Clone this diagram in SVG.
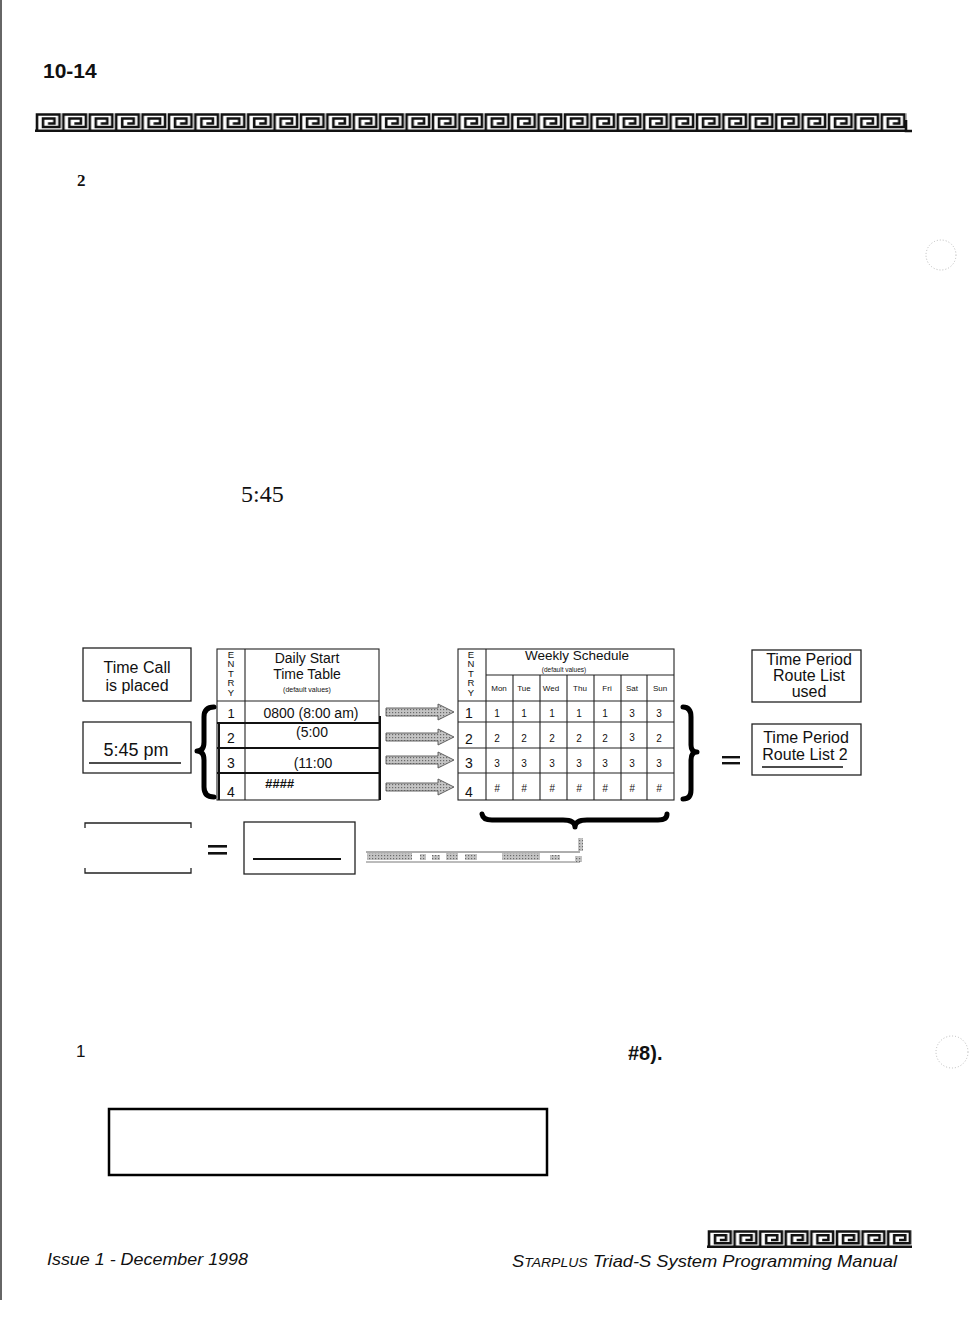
<svg xmlns="http://www.w3.org/2000/svg" width="975" height="1324" viewBox="0 0 975 1324">
<style>
.sans{font-family:"Liberation Sans",Arial,sans-serif;fill:#111}
.serif{font-family:"Liberation Serif","Times New Roman",serif;fill:#111}
.box{fill:none;stroke:#222;stroke-width:1.3}
.grid{fill:none;stroke:#222;stroke-width:1.1}
.thick{fill:none;stroke:#111;stroke-width:2}
.brace{fill:none;stroke:#000;stroke-width:5;stroke-linecap:round;stroke-linejoin:round}
.key{fill:none;stroke:#111;stroke-width:2.6}
.arrow{fill:url(#dots);stroke:#555;stroke-width:0.9}
.c{text-anchor:middle}
</style>
<defs>
<pattern id="keyA" patternUnits="userSpaceOnUse" x="35" y="113" width="26.4" height="19">
<path class="key" d="M0,17.7 H26.4 M2,17.7 V1.5 H24.5 V14 H8 V5.5 H19.5 V10.5 H13"/>
</pattern>
<pattern id="keyB" patternUnits="userSpaceOnUse" x="707" y="1230" width="25.6" height="18">
<path class="key" d="M0,16.7 H25.6 M2,16.7 V1.5 H23.7 V13.2 H8 V5.3 H19 V10 H12.8"/>
</pattern>
<pattern id="dots" patternUnits="userSpaceOnUse" width="3" height="3">
<rect width="3" height="3" fill="#c4c4c4"/>
<rect width="1.2" height="1.2" fill="#6a6a6a"/>
</pattern>
<path id="arr" d="M0,-4 H52 V-8 L68,0 L52,8 V4 H0 Z"/>
</defs>

<!-- page edge -->
<line x1="1" y1="0" x2="1" y2="1300" stroke="#333" stroke-width="1.5"/>

<!-- header -->
<text class="sans" x="43" y="78" font-size="21" font-weight="bold">10-14</text>
<rect x="35" y="113" width="872" height="19" fill="url(#keyA)"/>
<path d="M906,120 V131 H912" class="key" stroke-width="2"/>

<text class="serif" x="77" y="186" font-size="17" font-weight="bold">2</text>
<text class="serif" x="241" y="502" font-size="24">5:45</text>

<!-- speckle marks -->
<circle cx="941" cy="255" r="15" fill="none" stroke="#bbb" stroke-width="1" stroke-dasharray="1 2"/>
<circle cx="952" cy="1052" r="16" fill="none" stroke="#bbb" stroke-width="1" stroke-dasharray="1 2"/>

<!-- Time Call box -->
<g id="time-call">
<rect class="box" x="83" y="648" width="108" height="53"/>
<text class="sans c" x="137" y="673" font-size="16">Time Call</text>
<text class="sans c" x="137" y="691" font-size="16">is placed</text>
</g>
<g id="time-545">
<rect class="box" x="83" y="722" width="108" height="51"/>
<text class="sans c" x="136" y="756" font-size="18">5:45 pm</text>
<line x1="89" y1="763" x2="181" y2="763" stroke="#111" stroke-width="1.6"/>
</g>

<!-- Daily start time table -->
<g id="daily-table">
<rect class="grid" x="217" y="649" width="162" height="151"/>
<line class="grid" x1="245" y1="649" x2="245" y2="800"/>
<line class="grid" x1="217" y1="701" x2="379" y2="701"/>
<line class="thick" x1="217" y1="723" x2="381" y2="723"/>
<line class="thick" x1="217" y1="748" x2="381" y2="748"/>
<line class="thick" x1="217" y1="773" x2="381" y2="773"/>
<line class="thick" x1="219" y1="723" x2="219" y2="800"/>
<line class="thick" x1="380" y1="716" x2="380" y2="800"/>
<g class="sans c" font-size="9.5">
<text x="231" y="658">E</text><text x="231" y="667">N</text><text x="231" y="677">T</text><text x="231" y="686">R</text><text x="231" y="696">Y</text>
</g>
<text class="sans c" x="307" y="663" font-size="14">Daily Start</text>
<text class="sans c" x="307" y="679" font-size="14">Time Table</text>
<text class="sans c" x="307" y="692" font-size="7">(default values)</text>
<text class="sans c" x="231" y="718" font-size="13">1</text>
<text class="sans c" x="311" y="718" font-size="14">0800 (8:00 am)</text>
<text class="sans c" x="231" y="743" font-size="14">2</text>
<text class="sans c" x="312" y="737" font-size="14">(5:00</text>
<text class="sans c" x="231" y="768" font-size="14">3</text>
<text class="sans c" x="313" y="768" font-size="14">(11:00</text>
<text class="sans c" x="231" y="797" font-size="14">4</text>
<text class="sans" x="265" y="788" font-size="13" font-style="italic" font-weight="bold">####</text>
</g>

<!-- braces -->
<path class="brace" d="M214,707 Q204,707 204,717 V742 Q204,751 197,751 Q204,751 204,760 V787 Q204,797 214,797"/>
<path class="brace" d="M683,707 Q691,707 691,717 V745 Q691,752 697,752 Q691,752 691,760 V790 Q691,799 683,799"/>
<path class="brace" d="M482,814 Q483,820 492,820 H563 Q575,820 575,827 Q575,820 587,820 H658 Q667,820 667,814"/>

<!-- connectors -->
<g id="connectors">
<use href="#arr" class="arrow" x="386" y="712"/>
<use href="#arr" class="arrow" x="386" y="737"/>
<use href="#arr" class="arrow" x="386" y="760"/>
<use href="#arr" class="arrow" x="386" y="787"/>
</g>

<!-- Weekly schedule table -->
<g id="weekly-table">
<rect class="grid" x="458" y="649" width="216" height="151"/>
<line class="grid" x1="486" y1="649" x2="486" y2="800"/>
<line class="grid" x1="486" y1="675" x2="674" y2="675"/>
<line class="grid" x1="458" y1="701" x2="674" y2="701"/>
<line class="grid" x1="458" y1="722" x2="674" y2="722"/>
<line class="grid" x1="458" y1="748" x2="674" y2="748"/>
<line class="grid" x1="458" y1="773" x2="674" y2="773"/>
<g class="grid">
<line x1="513" y1="675" x2="513" y2="800"/>
<line x1="540" y1="675" x2="540" y2="800"/>
<line x1="567" y1="675" x2="567" y2="800"/>
<line x1="594" y1="675" x2="594" y2="800"/>
<line x1="621" y1="675" x2="621" y2="800"/>
<line x1="647" y1="675" x2="647" y2="800"/>
</g>
<g class="sans c" font-size="9.5">
<text x="471" y="658">E</text><text x="471" y="667">N</text><text x="471" y="677">T</text><text x="471" y="686">R</text><text x="471" y="696">Y</text>
</g>
<text class="sans c" x="577" y="660" font-size="13.5">Weekly Schedule</text>
<text class="sans c" x="564" y="672" font-size="6.5">(default values)</text>
<g class="sans c" font-size="8">
<text x="499" y="691">Mon</text><text x="524" y="691">Tue</text><text x="551" y="691">Wed</text><text x="580" y="691">Thu</text><text x="607" y="691">Fri</text><text x="632" y="691">Sat</text><text x="660" y="691">Sun</text>
</g>
<g class="sans c" font-size="14">
<text x="469" y="718">1</text><text x="469" y="744">2</text><text x="469" y="768">3</text><text x="469" y="797">4</text>
</g>
<g class="sans c" font-size="10">
<text x="497" y="717">1</text><text x="524" y="717">1</text><text x="552" y="717">1</text><text x="579" y="717">1</text><text x="605" y="717">1</text><text x="632" y="717">3</text><text x="659" y="717">3</text>
<text x="497" y="742">2</text><text x="524" y="742">2</text><text x="552" y="742">2</text><text x="579" y="742">2</text><text x="605" y="742">2</text><text x="632" y="741">3</text><text x="659" y="742">2</text>
<text x="497" y="767">3</text><text x="524" y="767">3</text><text x="552" y="767">3</text><text x="579" y="767">3</text><text x="605" y="767">3</text><text x="632" y="767">3</text><text x="659" y="767">3</text>
<text x="497" y="792" font-style="italic">#</text><text x="524" y="792" font-style="italic">#</text><text x="552" y="792" font-style="italic">#</text><text x="579" y="792" font-style="italic">#</text><text x="605" y="792" font-style="italic">#</text><text x="632" y="792" font-style="italic">#</text><text x="659" y="792" font-style="italic">#</text>
</g>
</g>

<!-- equals -->
<g fill="#111">
<rect x="722" y="756" width="18" height="2.4"/>
<rect x="722" y="762" width="18" height="2.4"/>
<rect x="208" y="845" width="19" height="2.6"/>
<rect x="208" y="852" width="19" height="2.6"/>
</g>

<!-- route list boxes -->
<g id="route-used">
<rect class="box" x="752" y="650" width="109" height="52"/>
<text class="sans c" x="809" y="665" font-size="16">Time Period</text>
<text class="sans c" x="809" y="681" font-size="16">Route List</text>
<text class="sans c" x="809" y="697" font-size="16">used</text>
</g>
<g id="route-2">
<rect class="box" x="752" y="724" width="109" height="51"/>
<text class="sans c" x="806" y="743" font-size="16">Time Period</text>
<text class="sans c" x="805" y="760" font-size="16">Route List 2</text>
<line x1="762" y1="767" x2="843" y2="767" stroke="#111" stroke-width="1.6"/>
</g>

<!-- lower blank row -->
<g id="blank-left">
<path class="box" d="M85,828 V823 H191 V828 M85,868 V873 H191 V868"/>
</g>
<g id="blank-mid">
<rect class="box" x="244" y="822" width="111" height="52"/>
<line x1="253" y1="859" x2="341" y2="859" stroke="#111" stroke-width="2"/>
</g>
<g id="hatch-line">
<line x1="366" y1="852" x2="580" y2="852" stroke="#333" stroke-width="0.8"/>
<line x1="366" y1="862" x2="580" y2="862" stroke="#555" stroke-width="0.8"/>
<g fill="url(#dots)">
<rect x="367" y="853" width="45" height="7"/>
<rect x="420" y="854" width="6" height="6"/>
<rect x="432" y="855" width="8" height="5"/>
<rect x="446" y="853" width="12" height="7"/>
<rect x="465" y="854" width="12" height="6"/>
<rect x="502" y="853" width="38" height="7"/>
<rect x="550" y="855" width="10" height="5"/>
<rect x="575" y="856" width="7" height="6"/>
<rect x="578" y="838" width="5" height="13"/>
</g>
</g>

<!-- lower note -->
<text class="sans" x="76" y="1057" font-size="17">1</text>
<text class="sans" x="628" y="1060" font-size="20" font-weight="bold">#8).</text>
<rect x="109" y="1109" width="438" height="66" fill="none" stroke="#000" stroke-width="2.5"/>

<!-- footer -->
<rect x="707" y="1230" width="205" height="18" fill="url(#keyB)"/>
<text class="sans" x="47" y="1265" font-size="17" font-style="italic" textLength="201" lengthAdjust="spacingAndGlyphs">Issue 1 - December 1998</text>
<text class="sans" x="512" y="1267" font-size="17" font-style="italic" textLength="385" lengthAdjust="spacingAndGlyphs">S<tspan font-size="13">TARPLUS</tspan> Triad-S System Programming Manual</text>
</svg>
